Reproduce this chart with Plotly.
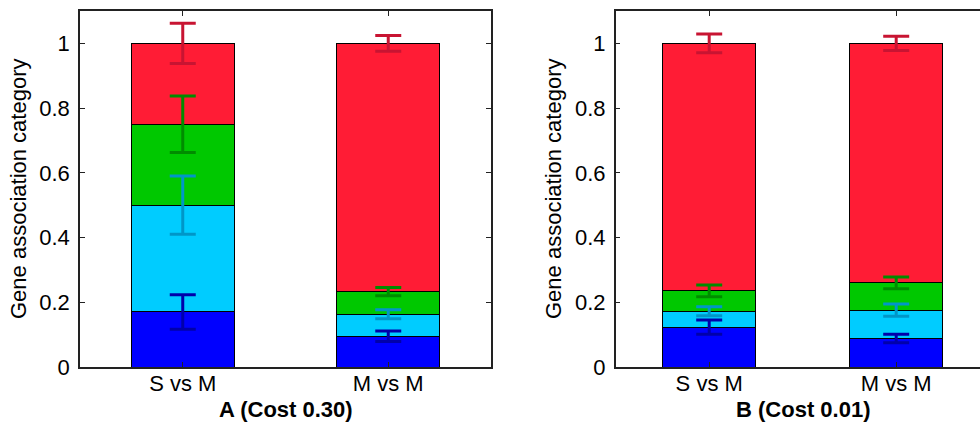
import numpy as np
import plotly.graph_objects as go

categories = ["S vs M", "M vs M"]
series_names = ["blue", "cyan", "green", "red"]

# Panel A (Cost 0.30): stacked segment heights and error half-widths
a_blue = [0.17, 0.095]
a_cyan = [0.33, 0.068]
a_green = [0.25, 0.070]
a_red = [0.25, 0.767]
a_blue_err = [0.053, 0.016]
a_cyan_err = [0.090, 0.014]
a_green_err = [0.087, 0.013]
a_red_err = [0.062, 0.024]

# Panel B (Cost 0.01)
b_blue = [0.123, 0.088]
b_cyan = [0.049, 0.088]
b_green = [0.063, 0.084]
b_red = [0.765, 0.740]
b_blue_err = [0.022, 0.013]
b_cyan_err = [0.014, 0.019]
b_green_err = [0.018, 0.018]
b_red_err = [0.029, 0.022]

panel_titles = ["A (Cost 0.30)", "B (Cost 0.01)"]
y_title = "Gene association category"
y_ticks = [0, 0.2, 0.4, 0.6, 0.8, 1]
y_ticktext = ["0", "0.2", "0.4", "0.6", "0.8", "1"]

fill_colors = ["#0000FF", "#00CCFF", "#00C800", "#FF1C35"]
err_colors = ["#0000AA", "#0096C8", "#008C00", "#C81432"]

FONT = "Liberation Sans, Arial, Helvetica, sans-serif"
FS = 22

fig = go.Figure()

panels = [
    ("x", "y", [a_blue, a_cyan, a_green, a_red], [a_blue_err, a_cyan_err, a_green_err, a_red_err]),
    ("x2", "y2", [b_blue, b_cyan, b_green, b_red], [b_blue_err, b_cyan_err, b_green_err, b_red_err]),
]

xpos = [1, 2]
for xa, ya, vals, errs in panels:
    for i in range(4):
        fig.add_trace(go.Bar(
            x=xpos, y=vals[i], width=0.5,
            xaxis=xa, yaxis=ya,
            name=series_names[i], showlegend=False,
            marker=dict(color=fill_colors[i], line=dict(color="black", width=1)),
        ))
for xa, ya, vals, errs in panels:
    tops = np.cumsum(np.array(vals), axis=0)
    for i in range(4):
        fig.add_trace(go.Scatter(
            x=xpos, y=tops[i], mode="markers",
            xaxis=xa, yaxis=ya, showlegend=False,
            marker=dict(size=1, opacity=0),
            error_y=dict(type="data", array=errs[i], visible=True,
                         color=err_colors[i], thickness=3, width=13),
        ))

fig.update_layout(
    template="none",
    barmode="stack",
    width=980, height=423,
    margin=dict(l=0, r=0, t=0, b=0, pad=0),
    paper_bgcolor="white", plot_bgcolor="white",
    font=dict(family=FONT, size=FS, color="black"),
)

axis_common = dict(showgrid=False, zeroline=False, showline=True, linecolor="#222222",
                   linewidth=1.5, ticks="inside", ticklen=5, tickcolor="#222222",
                   automargin=False,
                   tickfont=dict(family=FONT, size=FS, color="black"))

ybot = 56 / 423
ytop = (423 - 11) / 423

fig.update_layout(
    xaxis=dict(domain=[80 / 980, 491 / 980], range=[0.5, 2.5], tickvals=xpos,
               ticktext=categories, mirror="ticks", anchor="y", ticklabelstandoff=-4,
               **axis_common),
    yaxis=dict(domain=[ybot, ytop], range=[0, 1.1], tickvals=y_ticks, ticktext=y_ticktext,
               mirror="ticks", anchor="x", ticklabelstandoff=4, **axis_common),
    xaxis2=dict(domain=[615.7 / 980, 1.0], range=[0.5, 0.5 + (980 - 615.7) / 187],
                tickvals=xpos, ticktext=categories, mirror="ticks", anchor="y2",
                ticklabelstandoff=-4, **axis_common),
    yaxis2=dict(domain=[ybot, ytop], range=[0, 1.1], tickvals=y_ticks, ticktext=y_ticktext,
                mirror=False, anchor="x2", ticklabelstandoff=4, **axis_common),
)

centers = [(80 + 491) / 2 / 980, (615.7 + 990) / 2 / 980]
ylab_x = [18 / 980, 553 / 980]
for k in range(2):
    fig.add_annotation(x=centers[k], y=(423 - 409) / 423, xref="paper", yref="paper",
                       text="<b>" + panel_titles[k] + "</b>", showarrow=False,
                       font=dict(family=FONT, size=FS, color="black"),
                       xanchor="center", yanchor="middle")
    fig.add_annotation(x=ylab_x[k], y=(423 - 189) / 423, xref="paper", yref="paper",
                       text=y_title, textangle=-90, showarrow=False,
                       font=dict(family=FONT, size=FS, color="black"),
                       xanchor="center", yanchor="middle")

post = ("var d=document.getElementById('{plot_id}');"
        "d.style.position='fixed';d.style.left='0px';d.style.top='0px';"
        "document.body.style.margin='0';document.body.style.overflow='hidden';")
fig.write_html("out.html", config={"displayModeBar": False}, post_script=post)
